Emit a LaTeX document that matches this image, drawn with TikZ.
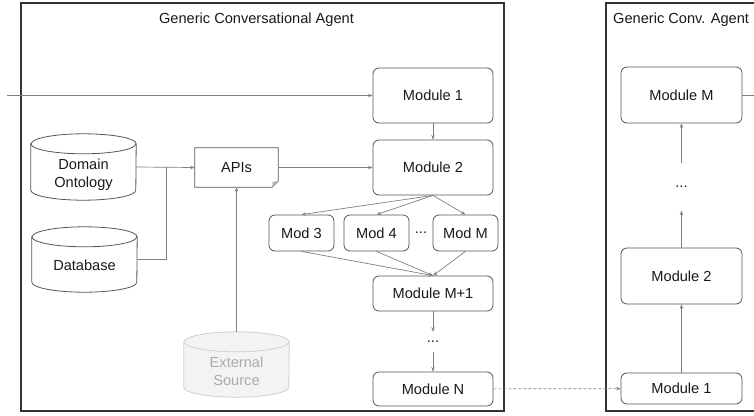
\documentclass[tikz,border=0pt]{standalone}
\usepackage{fontspec}
\setmainfont{Liberation Sans}
\usetikzlibrary{arrows.meta,calc}
\definecolor{framec}{HTML}{333333}
\definecolor{boxc}{HTML}{555555}
\definecolor{linec}{HTML}{808080}
\definecolor{extc}{HTML}{CFCFCF}
\definecolor{exttext}{HTML}{ABABAB}
\definecolor{extfill}{HTML}{F3F3F3}
\definecolor{txtc}{HTML}{1A1A1A}
\newcommand\cylpath[2]{%
  \draw[#2] ([yshift=-10pt]#1.north west) -- ([yshift=10pt]#1.south west)
    arc[start angle=180,end angle=360,x radius=52.5pt,y radius=10pt]
    -- ([yshift=-10pt]#1.north east)
    arc[start angle=0,end angle=180,x radius=52.5pt,y radius=10pt] -- cycle;
  \draw[#2,fill=none] ([yshift=-10pt]#1.north west)
    arc[start angle=180,end angle=360,x radius=52.5pt,y radius=10pt];
}
\begin{document}
\begin{tikzpicture}[x=1pt,y=-1pt,
  every node/.style={font=\fontsize{14.6}{18}\selectfont, text=txtc},
  frame/.style={draw=framec, line width=1.5pt, inner sep=0pt},
  modbox/.style={draw=boxc, line width=0.8pt, rounded corners=6pt, inner sep=0pt},
  bigmod/.style={modbox, minimum width=120pt},
  smallmod/.style={modbox, minimum width=65pt, minimum height=36pt},
  cyl/.style={minimum width=105pt, inner sep=0pt},
  dotsnode/.style={inner sep=0pt},
  conn/.style={draw=linec, line width=0.7pt, -{Stealth[length=4.5pt,width=3.5pt]}},
  plain/.style={draw=linec, line width=0.7pt},
  dbstyle/.style={draw=boxc, line width=0.8pt, fill=white},
  extstyle/.style={draw=extc, line width=0.8pt, fill=extfill},
]
\clip (0,0) rectangle (754,415);
\fill[white] (0,0) rectangle (754,415);

% frames
\node[frame, minimum width=483pt, minimum height=408pt] (left) at (262.5,207) {};
\node (lefttitle) at (256.5,20) {Generic Conversational Agent};
\node[frame, minimum width=160pt, minimum height=408pt] (right) at (686,207) {};
\node[anchor=west, inner sep=0pt] (righttitle) at (613,19.5) {Generic Conv. Agent};

% cylinders (shape nodes, outline drawn around them)
\node[cyl, minimum height=66pt] (onto) at (83.5,167) {};
\cylpath{onto}{dbstyle}
\node[cyl, minimum height=65pt] (db) at (84.5,259.5) {};
\cylpath{db}{dbstyle}
\node[cyl, minimum height=65pt] (ext) at (236.5,364.5) {};
\cylpath{ext}{extstyle}
% cylinder texts
\node[align=center, inner sep=0pt] (ontotext) at (83.5,174.5) {Domain\\Ontology};
\node[inner sep=0pt] (dbtext) at (84.5,265.5) {Database};
\node[align=center, inner sep=0pt, text=exttext] (exttxt) at (236.5,371) {External\\Source};

% APIs note
\node[minimum width=83pt, minimum height=39pt, inner sep=0pt] (api) at (236.5,167.5) {APIs};
\draw[draw=boxc, line width=0.8pt] (api.north west) -- (api.north east)
  -- ([yshift=6pt]api.south east) -- ([xshift=-6pt]api.south east)
  -- (api.south west) -- cycle;
\fill[boxc!45] ([yshift=6pt]api.south east) -- ([xshift=-6pt]api.south east)
  -- ([xshift=-5.5pt,yshift=5.5pt]api.south east) -- cycle;

% left modules
\node[bigmod, minimum height=55pt] (m1) at (433,95.5) {Module 1};
\node[bigmod, minimum height=55pt] (m2) at (433,167.5) {Module 2};
\node[smallmod] (m3) at (301.5,233) {Mod 3};
\node[smallmod] (m4) at (376.5,233) {Mod 4};
\node[dotsnode] (d1) at (421,233) {...};
\node[smallmod] (mM) at (465.5,233) {Mod M};
\node[bigmod, minimum height=35pt] (mm1) at (433,293.5) {Module M+1};
\node[dotsnode, minimum height=20pt] (d2) at (433,342) {...};
\node[bigmod, minimum height=34pt] (mn) at (433,389) {Module N};

% right modules
\node[bigmod, minimum width=121pt, minimum height=31pt] (r1) at (681.5,388.5) {Module 1};
\node[bigmod, minimum width=121pt, minimum height=56pt] (r2) at (681.5,276) {Module 2};
\node[dotsnode, minimum height=47pt] (d3) at (681.5,187) {...};
\node[bigmod, minimum width=121pt, minimum height=56pt] (rM) at (681.5,95) {Module M};

% connectors
\coordinate (in) at (7,95.5);
\coordinate (j) at (166,167);
\coordinate (out) at (770,95);
\draw[conn] (in) -- (m1.west);
\draw[conn] (onto.east) -- (api.west);
\draw[plain] (db.east) -| (j);
\draw[conn] (api.east) -- (m2.west);
\draw[conn] (ext.north) -- (api.south);
\draw[conn] (m1) -- (m2);
\draw[conn] (m2.south) -- (m3.north);
\draw[conn] (m2.south) -- (m4.north);
\draw[conn] (m2.south) -- (mM.north);
\draw[conn] (m3.south) -- (mm1.north);
\draw[conn] (m4.south) -- (mm1.north);
\draw[conn] (mM.south) -- (mm1.north);
\draw[conn] (mm1) -- (d2);
\draw[conn] (d2) -- (mn);
\draw[conn, dash pattern=on 3pt off 2pt] (mn) -- (r1);
\draw[conn] (r1) -- (r2);
\draw[conn] (r2) -- (d3);
\draw[conn] (d3) -- (rM);
\draw[plain] (rM.east) -- (out);
\end{tikzpicture}
\end{document}
